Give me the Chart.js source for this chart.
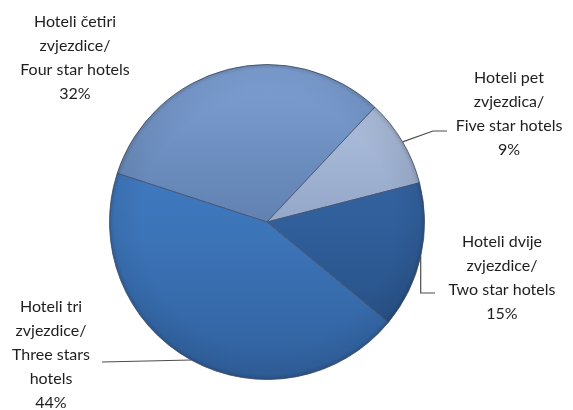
<!DOCTYPE html>
<html>
<head>
<meta charset="utf-8">
<script src="https://cdn.jsdelivr.net/npm/chart.js@4/dist/chart.umd.min.js"></script>
<style>
html,body{margin:0;padding:0;background:#fff;}
#wrap{width:573px;height:410px;position:relative;}
</style>
</head>
<body>
<div id="wrap"><canvas id="c" width="573" height="410"></canvas></div>
<script>
// ---- data ----
const categories = [
  ["Hoteli četiri", "zvjezdice/", "Four star hotels"],
  ["Hoteli pet", "zvjezdica/", "Five star hotels"],
  ["Hoteli dvije", "zvjezdice/", "Two star hotels"],
  ["Hoteli tri", "zvjezdice/", "Three stars", "hotels"]
];
const shares = [32, 9, 15, 44];
const percentLabels = ["32%", "9%", "15%", "44%"];

// ---- styles ----
const gradStops = [
  [[0, '#7ea1d5'], [0.45, '#6384b4'], [1, '#536f9c']],
  [[0, '#b8c8e4'], [0.45, '#97aacb'], [1, '#8496b8']],
  [[0, '#3b6ca9'], [0.5, '#305f9b'], [1, '#244a7c']],
  [[0, '#4680c8'], [0.55, '#3c74b8'], [1, '#30609d']]
];
// label layout: [centerX, firstLineY]
const labelPos = [[75, 22], [509, 78], [502, 242], [51, 307]];
const lineH = 24;

function bg(ctx) {
  const chart = ctx.chart;
  const a = chart.chartArea;
  const fallback = gradStops[ctx.dataIndex][1][1];
  if (!a) return fallback;
  const g = chart.ctx.createLinearGradient(0, a.top, 0, a.bottom);
  gradStops[ctx.dataIndex].forEach(s => g.addColorStop(s[0], s[1]));
  return g;
}

const labelPlugin = {
  id: 'labels',
  afterDatasetsDraw(chart) {
    const ctx = chart.ctx;
    const meta = chart.getDatasetMeta(0);
    const arc0 = meta.data[0];
    const cx = arc0.x, cy = arc0.y, R = arc0.outerRadius;
    // rim shading
    ctx.save();
    const rg = ctx.createRadialGradient(cx, cy, R * 0.80, cx, cy, R);
    rg.addColorStop(0, 'rgba(0,0,0,0)');
    rg.addColorStop(0.85, 'rgba(0,0,0,0.06)');
    rg.addColorStop(1, 'rgba(0,0,0,0.18)');
    ctx.beginPath(); ctx.arc(cx, cy, R, 0, Math.PI * 2); ctx.fillStyle = rg; ctx.fill();
    ctx.restore();

    // leader lines
    ctx.save();
    ctx.strokeStyle = '#4d4d4d';
    ctx.lineWidth = 1.2;
    const mid = i => {
      const el = meta.data[i];
      const ang = (el.startAngle + el.endAngle) / 2;
      return [cx + Math.cos(ang) * R, cy + Math.sin(ang) * R];
    };
    let p = mid(1);
    ctx.beginPath(); ctx.moveTo(p[0], p[1]); ctx.lineTo(433, 131); ctx.lineTo(447, 131); ctx.stroke();
    p = mid(2);
    ctx.beginPath(); ctx.moveTo(p[0], p[1]); ctx.lineTo(p[0], 293); ctx.lineTo(435, 293); ctx.stroke();
    p = mid(3);
    ctx.beginPath(); ctx.moveTo(p[0], p[1]); ctx.lineTo(102, 362); ctx.stroke();
    ctx.restore();

    // texts
    ctx.save();
    ctx.font = '16px Lato, "Open Sans", sans-serif';
    ctx.fillStyle = '#1e1e1e';
    ctx.textAlign = 'center';
    ctx.textBaseline = 'middle';
    categories.forEach((lines, i) => {
      const [x, y0] = labelPos[i];
      const all = lines.concat([percentLabels[i]]);
      all.forEach((t, k) => ctx.fillText(t, x, y0 + k * lineH));
    });
    ctx.restore();
  }
};

new Chart(document.getElementById('c'), {
  type: 'pie',
  data: {
    labels: categories.map(l => l.join(' ')),
    datasets: [{
      data: shares,
      backgroundColor: bg,
      borderColor: 'rgba(70,85,110,0.85)',
      borderWidth: 1
    }]
  },
  options: {
    responsive: false,
    animation: false,
    rotation: 288,
    layout: { padding: { left: 109, right: 148, top: 64, bottom: 30 } },
    plugins: { legend: { display: false }, tooltip: { enabled: false } }
  },
  plugins: [labelPlugin]
});
</script>
</body>
</html>
